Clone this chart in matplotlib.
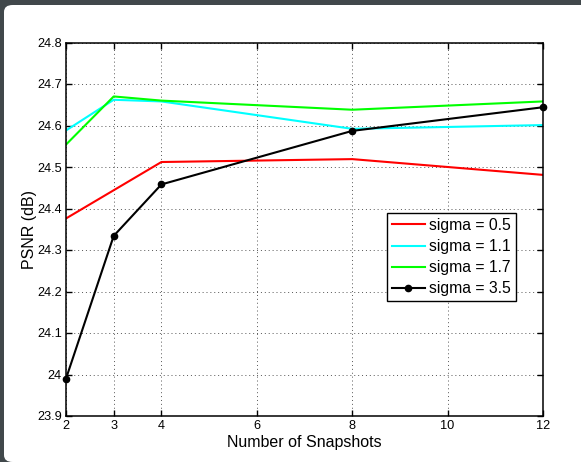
import matplotlib
matplotlib.use('Agg')
import matplotlib.pyplot as plt
from matplotlib.patches import FancyBboxPatch
from matplotlib.ticker import FuncFormatter

plt.rcParams['font.family'] = ['Liberation Sans', 'DejaVu Sans']

# data
snapshots = [2, 3, 4, 8, 12]
psnr_s05 = [24.376, 24.444, 24.512, 24.519, 24.481]
psnr_s11 = [24.588, 24.662, 24.658, 24.592, 24.601]
psnr_s17 = [24.554, 24.670, 24.660, 24.638, 24.658]
psnr_s35 = [23.990, 24.334, 24.458, 24.587, 24.644]

x_ticks = [2, 3, 4, 6, 8, 10, 12]
y_ticks = [23.9, 24.0, 24.1, 24.2, 24.3, 24.4, 24.5, 24.6, 24.7, 24.8]

W, H = 581, 462
fig = plt.figure(figsize=(W / 100, H / 100), dpi=100)
fig.patch.set_facecolor('#41484b')

# white window area (screenshot frame)
win = FancyBboxPatch((4 / W, 0.0), 1.1, 457 / H,
                     boxstyle='round,pad=0,rounding_size=0.015',
                     transform=fig.transFigure, facecolor='white',
                     edgecolor='none', zorder=-10)
fig.patches.append(win)

# axes box in pixels: left 66, right 543, top 42.5, bottom 416
ax = fig.add_axes([66 / W, 1 - 416 / H, 477 / W, 373.5 / H])
ax.set_zorder(1)

ax.plot(snapshots, psnr_s05, color='#ff0000', linewidth=1.5, label='sigma = 0.5')
ax.plot(snapshots, psnr_s11, color='#00ffff', linewidth=1.5, label='sigma = 1.1')
ax.plot(snapshots, psnr_s17, color='#00ff00', linewidth=1.5, label='sigma = 1.7')
ax.plot(snapshots, psnr_s35, color='black', linewidth=1.5, marker='o',
        markersize=4.5, label='sigma = 3.5', clip_on=False, zorder=5)

ax.set_xlim(2, 12)
ax.set_ylim(23.9, 24.8)
ax.set_xticks(x_ticks)
ax.set_yticks(y_ticks)
ax.yaxis.set_major_formatter(FuncFormatter(lambda v, p: '%g' % round(v, 1)))

ax.grid(True, linestyle=(0, (1, 3)), color='#555555', linewidth=0.7)
ax.tick_params(direction='in', top=True, right=True, length=4, width=1,
               labelsize=9.2, pad=3)
for s in ax.spines.values():
    s.set_linewidth(1.1)

ax.set_xlabel('Number of Snapshots', fontsize=11.5, labelpad=2)
ax.set_ylabel('PSNR (dB)', fontsize=11.5, labelpad=0)

leg = ax.legend(loc='lower right', bbox_to_anchor=(0.943, 0.308), fontsize=11.3,
                fancybox=False, framealpha=1, edgecolor='black',
                handlelength=2.1, handletextpad=0.28, borderpad=0.3,
                labelspacing=0.39, borderaxespad=0)
leg.get_frame().set_linewidth(1.0)

plt.savefig('out.png', dpi=100, facecolor=fig.get_facecolor())
